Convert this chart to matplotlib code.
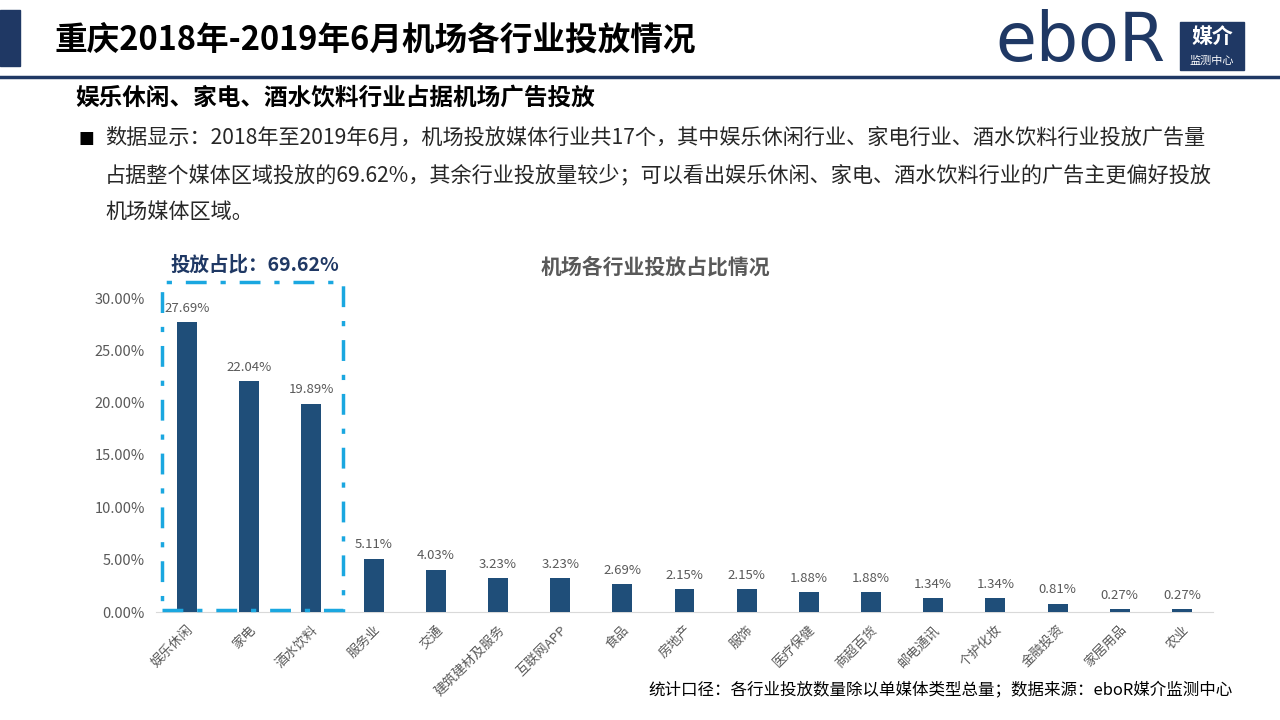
import matplotlib.pyplot as plt
from matplotlib.patches import Rectangle
import numpy as np

plt.rcParams['font.family'] = ['Noto Sans CJK SC', 'DejaVu Sans']

industries = ["娱乐休闲", "家电", "酒水饮料", "服务业", "交通", "建筑建材及服务", "互联网APP",
              "食品", "房地产", "服饰", "医疗保健", "商超百货", "邮电通讯", "个护化妆",
              "金融投资", "家居用品", "农业"]
shares = [27.69, 22.04, 19.89, 5.11, 4.03, 3.23, 3.23, 2.69, 2.15, 2.15, 1.88, 1.88,
          1.34, 1.34, 0.81, 0.27, 0.27]
yticks = [0, 5, 10, 15, 20, 25, 30]

NAVY = "#1f3864"
BAR = "#1f4e79"
GRAY = "#595959"

fig = plt.figure(figsize=(12.8, 7.2), dpi=100)

# header
fig.patches.append(Rectangle((0, 1 - 66 / 720), 20 / 1280, 56 / 720, transform=fig.transFigure,
                             color=NAVY, zorder=2))
fig.text(55 / 1280, 1 - 40 / 720, "重庆2018年-2019年6月机场各行业投放情况", fontsize=23.5,
         fontweight="bold", color="black", va="center")
fig.add_artist(plt.Line2D([0, 1], [1 - 77 / 720] * 2, transform=fig.transFigure, color=NAVY, lw=2.5))

# logo
fig.text(1080 / 1280, 1 - 42 / 720, "eboR", fontsize=48, color=NAVY, ha="center", va="center",
         family="DejaVu Sans")
fig.patches.append(Rectangle((1180 / 1280, 1 - 70 / 720), 64 / 1280, 48 / 720, transform=fig.transFigure,
                             color=NAVY, zorder=2))
fig.text(1212 / 1280, 1 - 36 / 720, "媒介", fontsize=15, color="white", ha="center", va="center",
         fontweight="bold", zorder=3)
fig.text(1212 / 1280, 1 - 61 / 720, "监测中心", fontsize=8, color="white", ha="center", va="center",
         zorder=3)

# subtitle and description
fig.text(75 / 1280, 1 - 98 / 720, "娱乐休闲、家电、酒水饮料行业占据机场广告投放", fontsize=17,
         fontweight="bold", color="black", va="center")
fig.text(78 / 1280, 1 - 138 / 720, "■", fontsize=12, color="black", va="center", family="DejaVu Sans")
lines = ["数据显示：2018年至2019年6月，机场投放媒体行业共17个，其中娱乐休闲行业、家电行业、酒水饮料行业投放广告量",
         "占据整个媒体区域投放的69.62%，其余行业投放量较少；可以看出娱乐休闲、家电、酒水饮料行业的广告主更偏好投放",
         "机场媒体区域。"]
for i, ln in enumerate(lines):
    fig.text(105 / 1280, 1 - (138 + 37 * i) / 720, ln, fontsize=15.2, color="#262626", va="center")

# chart
ax = fig.add_axes([156 / 1280, 1 - 612 / 720, 1057 / 1280, 314 / 720])
x = np.arange(len(industries))
ax.bar(x, shares, width=0.32, color=BAR, zorder=3)
for xi, v in zip(x, shares):
    ax.text(xi, v + 0.7, f"{v:.2f}%", ha="center", va="bottom", fontsize=9.5, color=GRAY)
ax.set_xlim(-0.5, len(industries) - 0.5)
ax.set_ylim(0, 30)
ax.set_yticks(yticks)
ax.set_yticklabels([f"{t:.2f}%" for t in yticks], fontsize=10.5, color=GRAY)
ax.set_xticks(x)
ax.set_xticklabels(industries, rotation=45, ha="right", rotation_mode="anchor", fontsize=9.5, color=GRAY)
ax.tick_params(length=0, pad=8)
for s in ["top", "right", "left"]:
    ax.spines[s].set_visible(False)
ax.spines["bottom"].set_color("#d9d9d9")
ax.patch.set_alpha(0)

# highlight box
box = Rectangle((-0.40, 0.2), 2.91, 31.3, fill=False, edgecolor="#1aa7e0", lw=2.5,
                linestyle=(0, (6, 4, 1.5, 4)), clip_on=False, zorder=4)
ax.add_patch(box)
ax.text(1.09, 33.2, "投放占比：69.62%", ha="center", va="center", fontsize=14,
        fontweight="bold", color=NAVY)
fig.text(655 / 1280, 1 - 267 / 720, "机场各行业投放占比情况", ha="center", va="center",
         fontsize=15, fontweight="bold", color=GRAY)

fig.text(1233 / 1280, 1 - 691 / 720, "统计口径：各行业投放数量除以单媒体类型总量；数据来源：eboR媒介监测中心",
         ha="right", va="center", fontsize=11.9, color="black")

fig.savefig("out.png", dpi=100)
